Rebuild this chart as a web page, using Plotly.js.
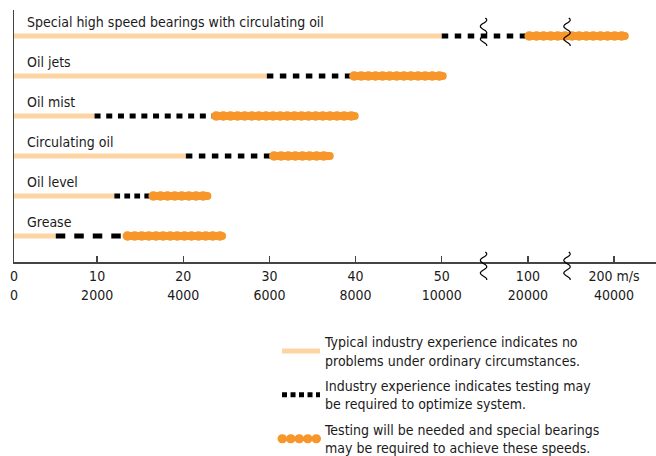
<!DOCTYPE html>
<html>
<head>
<meta charset="utf-8">
<script src="https://cdn.plot.ly/plotly-3.0.1.min.js"></script>
<style>
  html, body { margin: 0; padding: 0; background: #fff; }
  #chart { width: 656px; height: 456px; }
  path.js-line[style*="rgb(247, 150, 42)"] { stroke-linecap: round; }
</style>
</head>
<body>
<div id="chart"></div>
<script>
// Lubrication methods, bottom row first (m/s)
const categories = ["Grease", "Oil level", "Circulating oil", "Oil mist", "Oil jets",
                    "Special high speed bearings with circulating oil"];
const typicalEnd = [5.2, 12.0, 20.3, 9.7, 29.7, 50];      // light segment: 0 -> typicalEnd
const mayTestEnd = [13.5, 16.5, 30.5, 23.8, 39.8, 101];   // dashed segment: typicalEnd -> mayTestEnd
const testingEnd = [24.5, 22.8, 37.0, 39.9, 50.4, 218];   // dotted segment: mayTestEnd -> testingEnd

// Axis ticks (m/s and second row of labels)
const tickSpeeds = [0, 10, 20, 30, 40, 50, 100, 200];
const tickRow1 = ["0", "10", "20", "30", "40", "50", "100", "200 m/s"];
const tickRow2 = ["0", "2000", "4000", "6000", "8000", "10000", "20000", "40000"];
const axisBreaks = [70, 137];

const legendNames = [
  "Typical industry experience indicates no<br>problems under ordinary circumstances.",
  "Industry experience indicates testing may<br>be required to optimize system.",
  "Testing will be needed and special bearings<br>may be required to achieve these speeds."
];

// styles
const dashStyles = ["9.5px,9px", "5.7px,4.3px", "6.5px,6.5px", "6px,5.7px", "6.5px,6.5px", "6.5px,6.5px"];
const LIGHT = "rgb(253, 212, 163)";
const ORANGE = "rgb(247, 150, 42)";
const BLACK = "#000000";
const FONT = "'Liberation Sans Narrow', 'DejaVu Sans Condensed', 'Arial Narrow', sans-serif";
const XRANGE = [0.35, 74.87];

// broken scale: linear to 50 m/s, then one step per doubling
function toPos(v) { return v <= 50 ? v : 50 + 10 * Math.log2(v / 50); }

const traces = [];
categories.forEach((c, i) => {
  traces.push({ type: "scatter", mode: "lines", x: [toPos(0), toPos(typicalEnd[i])], y: [i, i],
    line: { color: LIGHT, width: 5 }, showlegend: false, hoverinfo: "skip" });
});
categories.forEach((c, i) => {
  traces.push({ type: "scatter", mode: "lines", x: [toPos(typicalEnd[i]), toPos(mayTestEnd[i])], y: [i, i],
    line: { color: BLACK, width: 5, dash: dashStyles[i] }, showlegend: false, hoverinfo: "skip" });
});
categories.forEach((c, i) => {
  // solid core of the dotted band
  traces.push({ type: "scatter", mode: "lines", x: [toPos(mayTestEnd[i]), toPos(testingEnd[i])], y: [i, i],
    line: { color: ORANGE, width: 8 }, showlegend: false, hoverinfo: "skip" });
  // beads along it
  traces.push({ type: "scatter", mode: "lines", x: [toPos(mayTestEnd[i]), toPos(testingEnd[i])], y: [i, i],
    line: { color: ORANGE, width: 9.5, dash: "0.5px,6.6px" }, showlegend: false, hoverinfo: "skip" });
});
// legend entries
traces.push({ type: "scatter", mode: "lines", x: [null], y: [null], name: legendNames[0],
  legendgroup: "a", line: { color: LIGHT, width: 5 } });
traces.push({ type: "scatter", mode: "lines", x: [null], y: [null], name: legendNames[1],
  legendgroup: "b", line: { color: BLACK, width: 5, dash: "5px,3.5px" } });
traces.push({ type: "scatter", mode: "lines", x: [null], y: [null], name: legendNames[2],
  legendgroup: "c", line: { color: ORANGE, width: 9, dash: "0.5px,8px" } });

const tickvals = tickSpeeds.map(v => Math.max(toPos(v), XRANGE[0]));
const ticktext = tickRow1.map((t, k) => t + "<br>" + tickRow2[k]);

const annotations = categories.map((c, i) => ({
  xref: "paper", yref: "y", x: 0.017, y: i + 0.34, xanchor: "left", yanchor: "middle",
  text: c, showarrow: false, font: { family: FONT, size: 14, color: "#1a1a1a" }
}));

function squigglePath(dy) {
  const pts = [];
  const n = 40;
  for (let k = 0; k <= n; k++) {
    const t = k / n;
    const yy = 14 - 28 * t + dy;
    const xx = 3.2 * Math.sin(2 * Math.PI * 2.2 * t + 0.6);
    pts.push((k === 0 ? "M" : "L") + xx.toFixed(2) + "," + yy.toFixed(2));
  }
  return pts.join(" ");
}
const shapes = [];
axisBreaks.forEach(b => {
  shapes.push({ type: "path", xref: "x", yref: "paper", xsizemode: "pixel", ysizemode: "pixel",
    xanchor: toPos(b), yanchor: 0, path: squigglePath(-4), line: { color: "#000", width: 1.2 } });
  shapes.push({ type: "path", xref: "x", yref: "y", xsizemode: "pixel", ysizemode: "pixel",
    xanchor: toPos(b), yanchor: categories.length - 1, path: squigglePath(4), line: { color: "#000", width: 1.2 } });
});

const layout = {
  width: 656, height: 456,
  margin: { l: 14, r: 0, t: 10, b: 194, autoexpand: false },
  paper_bgcolor: "#fff", plot_bgcolor: "#fff",
  font: { family: FONT, size: 14, color: "#1a1a1a" },
  xaxis: {
    range: XRANGE, showline: true, linecolor: "#444", linewidth: 1.5,
    ticks: "inside", ticklen: 6, tickwidth: 1.5, tickcolor: "#444",
    tickmode: "array", tickvals: tickvals, ticktext: ticktext,
    tickfont: { family: FONT, size: 14, color: "#1a1a1a" }, ticklabelstandoff: 1,
    showgrid: false, zeroline: false, fixedrange: true
  },
  yaxis: {
    range: [-0.65, 5.65], showline: true, linecolor: "#444", linewidth: 1.5,
    showticklabels: false, ticks: "", showgrid: false, zeroline: false, fixedrange: true
  },
  showlegend: true,
  legend: {
    x: 0.4097, xanchor: "left", y: -0.255, yanchor: "top",
    font: { family: FONT, size: 14, color: "#1a1a1a" }, tracegroupgap: 4.5,
    bgcolor: "rgba(0,0,0,0)", itemwidth: 38, valign: "middle"
  },
  annotations: annotations,
  shapes: shapes
};

Plotly.newPlot("chart", traces, layout, { displayModeBar: false, staticPlot: true });
</script>
</body>
</html>
